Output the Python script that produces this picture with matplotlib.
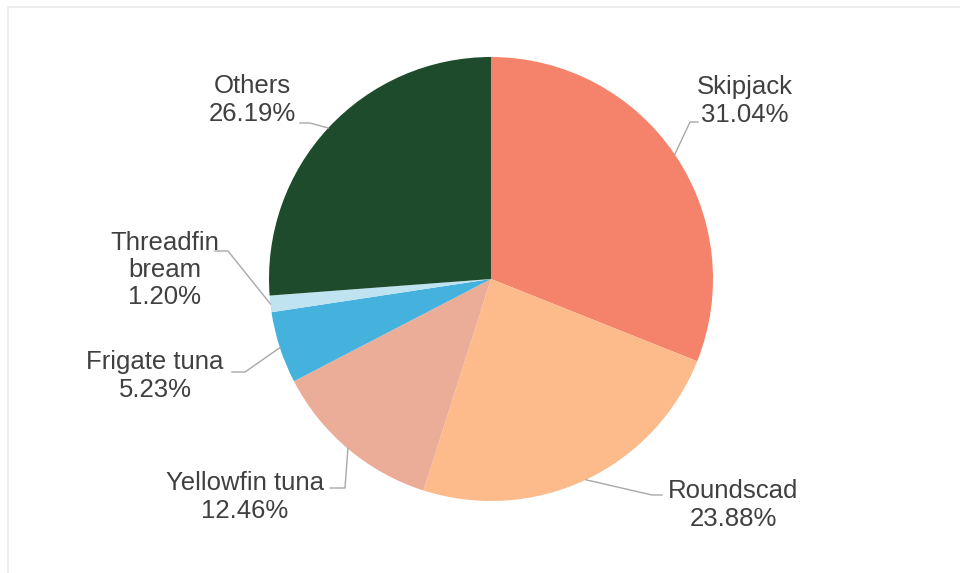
import matplotlib
matplotlib.use("Agg")
import matplotlib.pyplot as plt
import numpy as np

# Data
categories = ["Skipjack", "Roundscad", "Yellowfin tuna", "Frigate tuna", "Threadfin\nbream", "Others"]
shares = [31.04, 23.88, 12.46, 5.23, 1.20, 26.19]
colors = ["#F5826A", "#FDBB8C", "#EBAD97", "#45B2DE", "#BFE3F0", "#1E4B2C"]

# Layout (pixel coords, y measured from top)
W, H = 960, 573
cx, cy, R = 491, 279, 222
# text anchor (x, y), ha, elbow point (x, y), end point of leader (x, y)
label_layout = {
    "Skipjack":         ((697, 101), "left",   (690, 122), (698, 122)),
    "Roundscad":        ((668, 505), "left",   (652, 495), (662, 495)),
    "Yellowfin tuna":   ((245, 497), "center", (345, 488), (330, 488)),
    "Frigate tuna":     ((155, 376), "center", (245, 372), (232, 372)),
    "Threadfin\nbream": ((165, 270), "center", (228, 251), (215, 251)),
    "Others":           ((252, 100), "center", (310, 123), (300, 123)),
}

fig = plt.figure(figsize=(W / 100, H / 100), dpi=100)
ax = fig.add_axes([0, 0, 1, 1])
ax.set_xlim(0, W)
ax.set_ylim(0, H)
ax.set_aspect("equal")
ax.axis("off")

# faint frame
ax.plot([8, 8, W + 10], [-10, H - 7, H - 7], color="#EAEAEA", lw=1.2)

wedges, _ = ax.pie(shares, colors=colors, startangle=90, counterclock=False,
                   center=(cx, H - cy), radius=R, frame=True,
                   wedgeprops=dict(linewidth=0))
ax.set_xlim(0, W)
ax.set_ylim(0, H)
ax.axis("off")

font = ["Liberation Sans", "DejaVu Sans"]
for w, cat, val in zip(wedges, categories, shares):
    mid = np.deg2rad((w.theta1 + w.theta2) / 2)
    ex = cx + R * np.cos(mid)
    ey = (H - cy) + R * np.sin(mid)
    (tx, ty), ha, (bx, by), (lx, ly) = label_layout[cat]
    ax.plot([ex, bx, lx], [ey, H - by, H - ly], color="#A8A8A8", lw=1.0)
    ax.text(tx, H - ty, f"{cat}\n{val:.2f}%", ha=ha, va="center",
            fontsize=18.5, color="#404040", family=font, linespacing=1.16,
            multialignment="center")

fig.savefig("out.png", dpi=100)
